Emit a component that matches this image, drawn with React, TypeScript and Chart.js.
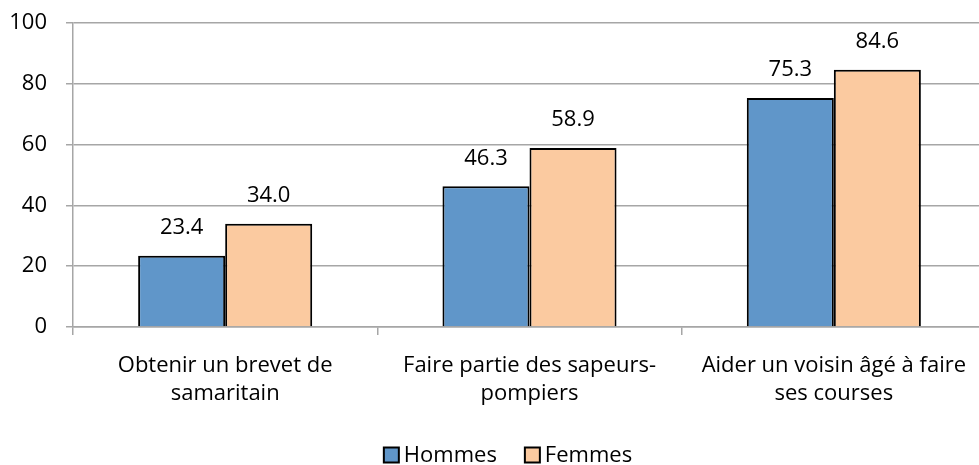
import React, { useEffect, useRef } from "react";
import { Chart, registerables } from "chart.js";

Chart.register(...registerables);

const categories: string[][] = [
  ["Obtenir un brevet de", "samaritain"],
  ["Faire partie des sapeurs-", "pompiers"],
  ["Aider un voisin âgé à faire", "ses courses"],
];
const seriesNames = ["Hommes", "Femmes"];
const hommes = [23.4, 46.3, 75.3];
const femmes = [34.0, 58.9, 84.6];
const yMin = 0;
const yMax = 100;
const yStep = 20;

const FONT = "'Open Sans', sans-serif";
const FONT_SIZE = 22;
const BLUE = "#6096c9";
const PEACH = "#fbcaa0";
const GRID = "#a6a6a6";

const W = 986;
const H = 465;

const valueLabels = {
  id: "valueLabels",
  afterDatasetsDraw(chart: any) {
    const ctx = chart.ctx;
    ctx.save();
    ctx.font = `${FONT_SIZE}px ${FONT}`;
    ctx.fillStyle = "#000";
    ctx.textAlign = "center";
    ctx.textBaseline = "middle";
    chart.data.datasets.forEach((ds: any, i: number) => {
      const meta = chart.getDatasetMeta(i);
      meta.data.forEach((bar: any, j: number) => {
        ctx.fillText(Number(ds.data[j]).toFixed(1), bar.x, bar.y - 28);
      });
    });
    ctx.restore();
  },
};

const customLegend = {
  id: "customLegend",
  afterDraw(chart: any) {
    const ctx = chart.ctx;
    ctx.save();
    ctx.font = `${FONT_SIZE}px ${FONT}`;
    ctx.textBaseline = "middle";
    ctx.textAlign = "left";
    const box = 15;
    const gapBoxText = 5;
    const gapItems = 28;
    const items = chart.data.datasets.map((ds: any) => ({
      label: ds.label,
      color: ds.backgroundColor,
      w: box + gapBoxText + ctx.measureText(ds.label).width,
    }));
    const total = items.reduce((s: number, it: any) => s + it.w, 0) + gapItems * (items.length - 1);
    const cx = 508;
    const cy = 455;
    let x = cx - total / 2;
    items.forEach((it: any) => {
      ctx.fillStyle = it.color;
      ctx.fillRect(x, cy - box / 2, box, box);
      ctx.lineWidth = 2;
      ctx.strokeStyle = "#000";
      ctx.strokeRect(x, cy - box / 2, box, box);
      ctx.fillStyle = "#000";
      ctx.fillText(it.label, x + box + gapBoxText, cy + 1);
      x += it.w + gapItems;
    });
    ctx.restore();
  },
};

export default function App() {
  const ref = useRef<HTMLCanvasElement | null>(null);

  useEffect(() => {
    if (!ref.current) return;
    const chart = new Chart(ref.current, {
      type: "bar",
      data: {
        labels: categories,
        datasets: [
          {
            label: seriesNames[0],
            data: hommes,
            backgroundColor: BLUE,
            borderColor: "#000",
            borderWidth: 2,
            categoryPercentage: 0.572,
            barPercentage: 1,
          },
          {
            label: seriesNames[1],
            data: femmes,
            backgroundColor: PEACH,
            borderColor: "#000",
            borderWidth: 2,
            categoryPercentage: 0.572,
            barPercentage: 1,
          },
        ],
      },
      options: {
        responsive: false,
        animation: false,
        layout: { padding: { top: 23, left: 0, right: 0, bottom: 58 } },
        plugins: {
          legend: { display: false },
          tooltip: { enabled: false },
        },
        scales: {
          x: {
            afterFit: (scale: any) => {
              scale.height = 80;
            },
            grid: {
              display: true,
              drawOnChartArea: false,
              drawTicks: true,
              tickLength: 8,
              color: GRID,
              lineWidth: 1.5,
            },
            border: { display: true, color: GRID, width: 1.5 },
            ticks: {
              color: "#000",
              font: { family: FONT, size: FONT_SIZE, lineHeight: 1.27 },
              padding: 17,
              maxRotation: 0,
              autoSkip: false,
            },
          },
          y: {
            min: yMin,
            max: yMax,
            afterFit: (scale: any) => {
              scale.width = 73;
              scale.paddingTop = 0;
              scale.paddingBottom = 0;
            },
            grid: {
              color: GRID,
              lineWidth: 1.5,
              tickLength: 7,
            },
            border: { display: true, color: GRID, width: 1.5 },
            ticks: {
              stepSize: yStep,
              color: "#000",
              font: { family: FONT, size: FONT_SIZE },
              padding: 19,
            },
          },
        },
      },
      plugins: [valueLabels, customLegend],
    });
    return () => chart.destroy();
  }, []);

  return (
    <div style={{ position: "fixed", left: 0, top: 0, width: W, height: H, background: "#fff" }}>
      <canvas ref={ref} width={W} height={H} style={{ display: "block", width: W, height: H }} />
    </div>
  );
}
